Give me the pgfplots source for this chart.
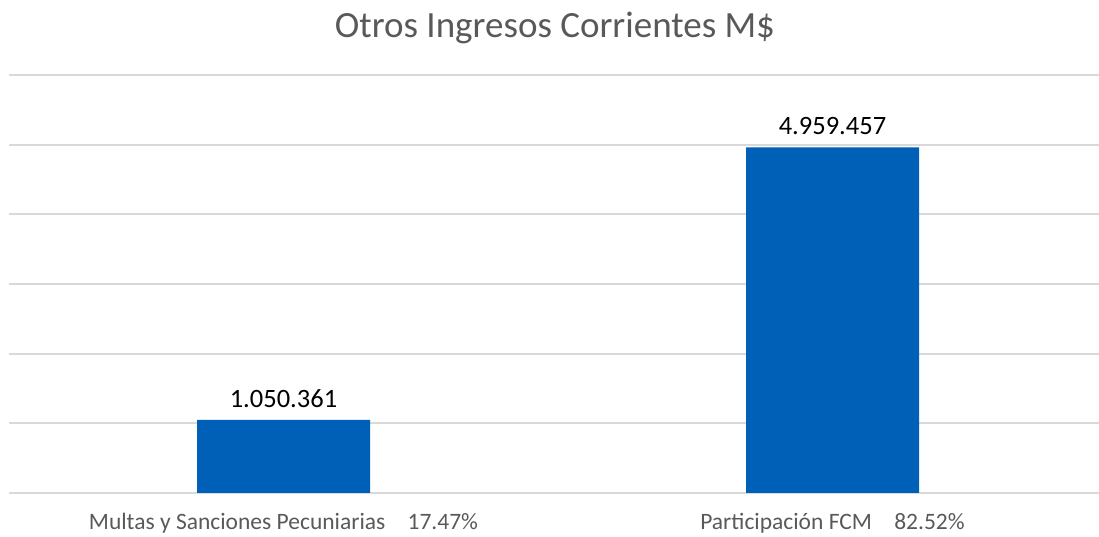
\documentclass[border=0pt]{standalone}
\usepackage{pgfplots}
\pgfplotsset{compat=1.18}
\usepackage{fontspec}
\setmainfont{Carlito}
\definecolor{barblue}{HTML}{0060B8}
\definecolor{gridgray}{HTML}{D9D9D9}
\definecolor{txtgray}{HTML}{595959}
\begin{document}
\begin{tikzpicture}[x=1pt,y=1pt]
\useasboundingbox (0,0) rectangle (1099,537);
\node[text=txtgray,font=\fontsize{37}{44}\selectfont] at (555,509) {Otros Ingresos Corrientes M\$};
\begin{axis}[
  at={(9pt,44pt)}, anchor=south west,
  scale only axis, width=1090pt, height=418pt,
  xmin=-0.5, xmax=1.4854, ymin=0, ymax=6000000,
  axis line style={draw=none},
  ybar, bar width=173pt,
  ytick={0,1000000,2000000,3000000,4000000,5000000,6000000},
  scaled y ticks=false,
  ymajorgrids, grid style={gridgray, line width=1.8pt},
  xtick=data,
  xticklabels={Multas y Sanciones Pecuniarias\hspace{0.95em}17.47\%, Participación FCM\hspace{0.95em}82.52\%},
  x tick label style={text=txtgray, font=\fontsize{23.5}{28}\selectfont, yshift=-17pt},
  yticklabels={},
  major tick length=0pt,
  /pgf/number format/assume math mode=true,
  nodes near coords={\pgfmathprintnumber[assume math mode=true, use period, 1000 sep={.}, fixed, precision=0]{\pgfplotspointmeta}},
  nodes near coords style={text=black, font=\fontsize{26.5}{32}\selectfont, yshift=9pt},
  point meta=explicit,
  clip=false,
]
\addplot[fill=barblue, draw=none] coordinates {(0,1050361) [1050361] (1,4959457) [4959457]};
\end{axis}
\end{tikzpicture}
\end{document}
